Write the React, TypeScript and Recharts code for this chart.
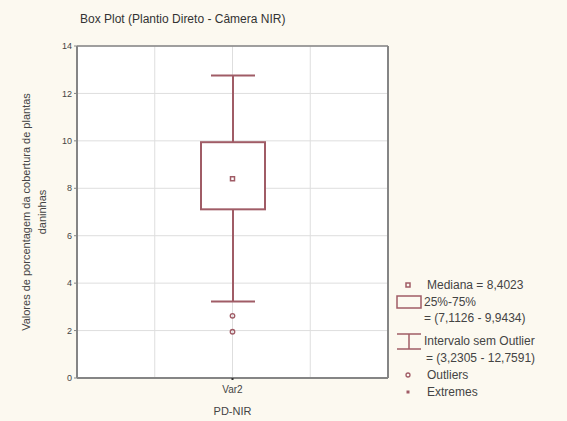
import React from 'react';
import {
  ComposedChart, Bar, Scatter, XAxis, YAxis, CartesianGrid, ReferenceLine,
} from 'recharts';

// dados do box plot (PD-NIR)
const categories = ['Var2'];
const quartis: [number, number][] = [[7.1126, 9.9434]];
const semOutlier: [number, number][] = [[3.2305, 12.7591]];
const medianas = [8.4023];
const outliers = [2.62, 1.95];
const yTicks = [0, 2, 4, 6, 8, 10, 12, 14];
const gridDivisions = 4; // grade vertical em quartos da largura

const COLORS = {
  bg: '#fcf9f0',
  mark: '#a05c66',
  frame: '#858585',
  grid: '#dedede',
  text: '#444',
};
const FONT = '"Liberation Sans", Arial, sans-serif';

const chartData = categories.map((name, i) => ({
  name,
  box: quartis[i],
  whisker: semOutlier[i],
}));
const medianData = categories.map((name, i) => ({ name, y: medianas[i] }));
const outlierData = outliers.map((y) => ({ name: categories[0], y }));

// whisker: linha vertical + dois traços horizontais
function WhiskerShape({ x, y, width, height }: any) {
  const cx = x + width / 2;
  return (
    <g stroke={COLORS.mark} strokeWidth={2}>
      <line x1={cx} x2={cx} y1={y} y2={y + height} />
      <line x1={x} x2={x + width} y1={y} y2={y} />
      <line x1={x} x2={x + width} y1={y + height} y2={y + height} />
    </g>
  );
}

function BoxShape({ x, y, width, height }: any) {
  return <rect x={x} y={y} width={width} height={height} fill="#fff" stroke={COLORS.mark} strokeWidth={2} />;
}

function MedianDot({ cx, cy }: any) {
  return <rect x={cx - 2} y={cy - 2} width={4} height={4} fill="none" stroke={COLORS.mark} strokeWidth={1.5} />;
}

function OutlierDot({ cx, cy }: any) {
  return <circle cx={cx} cy={cy} r={2.2} fill="none" stroke={COLORS.mark} strokeWidth={1.4} />;
}

function YLabel({ viewBox }: any) {
  const cy = viewBox.y + viewBox.height / 2;
  return (
    <g>
      <text transform={`rotate(-90, 26, ${cy})`} x={26} y={cy} textAnchor="middle" dominantBaseline="central"
        fontSize={11} fill={COLORS.text} fontFamily={FONT}>
        Valores de porcentagem da cobertura de plantas
      </text>
      <text transform={`rotate(-90, 42, ${cy})`} x={42} y={cy} textAnchor="middle" dominantBaseline="central"
        fontSize={11} fill={COLORS.text} fontFamily={FONT}>
        daninhas
      </text>
    </g>
  );
}

function LegendBox() {
  const txt: React.CSSProperties = { position: 'absolute', fontSize: 12, color: COLORS.text, whiteSpace: 'nowrap', lineHeight: '14px' };
  return (
    <div style={{ position: 'absolute', left: 0, top: 0, width: 567, height: 421, pointerEvents: 'none', fontFamily: FONT }}>
      <svg width={567} height={421} style={{ position: 'absolute', left: 0, top: 0 }}>
        <rect x={406} y={283} width={4} height={4} fill="none" stroke={COLORS.mark} strokeWidth={1.5} />
        <rect x={397} y={296} width={24} height={12} fill="none" stroke={COLORS.mark} strokeWidth={1.5} />
        <g stroke={COLORS.mark} strokeWidth={1.5}>
          <line x1={397} x2={421} y1={334} y2={334} />
          <line x1={409} x2={409} y1={334} y2={349} />
          <line x1={397} x2={421} y1={349} y2={349} />
        </g>
        <circle cx={408} cy={375} r={2} fill="none" stroke={COLORS.mark} strokeWidth={1.3} />
        <rect x={406.5} y={390.5} width={3} height={3} fill={COLORS.mark} />
      </svg>
      <span style={{ ...txt, left: 427, top: 278 }}>Mediana = 8,4023</span>
      <span style={{ ...txt, left: 424, top: 295 }}>25%-75%</span>
      <span style={{ ...txt, left: 424, top: 311 }}>= (7,1126 - 9,9434)</span>
      <span style={{ ...txt, left: 424, top: 334 }}>Intervalo sem Outlier</span>
      <span style={{ ...txt, left: 426, top: 351 }}>= (3,2305 - 12,7591)</span>
      <span style={{ ...txt, left: 427, top: 368 }}>Outliers</span>
      <span style={{ ...txt, left: 427, top: 385 }}>Extremes</span>
    </div>
  );
}

export default function App() {
  return (
    <div style={{ position: 'absolute', left: 0, top: 0, width: 567, height: 421, background: COLORS.bg, fontFamily: FONT }}>
      <div style={{ position: 'absolute', left: 80, top: 12, fontSize: 12, color: '#333', whiteSpace: 'nowrap' }}>
        Box Plot (Plantio Direto - Câmera NIR)
      </div>
      <ComposedChart width={567} height={421} data={chartData}
        margin={{ top: 46, right: 178, left: 0, bottom: 0 }}>
        <CartesianGrid xAxisId="b" yAxisId="v" stroke={COLORS.grid} strokeWidth={1} fill="#fff"
          verticalCoordinatesGenerator={({ offset }: any) =>
            Array.from({ length: gridDivisions - 1 }, (_, i) => offset.left + (offset.width * (i + 1)) / gridDivisions)} />
        <XAxis xAxisId="b" dataKey="name" type="category" allowDuplicatedCategory={false} height={43}
          axisLine={{ stroke: COLORS.frame, strokeWidth: 2 }} tickSize={2} tickMargin={6}
          tickLine={{ stroke: '#333', strokeWidth: 2 }}
          tick={{ fontSize: 10, fill: COLORS.text, fontFamily: FONT }}
          label={{ value: 'PD-NIR', position: 'insideBottom', offset: 6, fontSize: 11, fill: COLORS.text, fontFamily: FONT }} />
        <XAxis xAxisId="w" dataKey="name" type="category" orientation="top" allowDuplicatedCategory={false} hide />
        <YAxis yAxisId="v" domain={[0, 14]} ticks={yTicks} width={77} interval={0}
          axisLine={{ stroke: COLORS.frame, strokeWidth: 2 }} tickSize={3}
          tickLine={{ stroke: COLORS.frame }}
          tick={{ fontSize: 9, fill: COLORS.text, fontFamily: FONT }}
          label={<YLabel />} />
        <YAxis yAxisId="r" orientation="right" domain={[0, 14]} ticks={yTicks} width={1} tick={false}
          axisLine={{ stroke: COLORS.frame, strokeWidth: 2 }} tickLine={false} />
        <ReferenceLine xAxisId="b" yAxisId="v" y={14} stroke={COLORS.frame} strokeWidth={1.5} />
        <Bar xAxisId="w" yAxisId="v" dataKey="whisker" barSize={44} shape={<WhiskerShape />} isAnimationActive={false} />
        <Bar xAxisId="b" yAxisId="v" dataKey="box" barSize={64} shape={<BoxShape />} isAnimationActive={false} />
        <Scatter xAxisId="b" yAxisId="v" data={medianData} dataKey="y" shape={<MedianDot />} isAnimationActive={false} />
        <Scatter xAxisId="b" yAxisId="v" data={outlierData} dataKey="y" shape={<OutlierDot />} isAnimationActive={false} />
      </ComposedChart>
      <LegendBox />
    </div>
  );
}
